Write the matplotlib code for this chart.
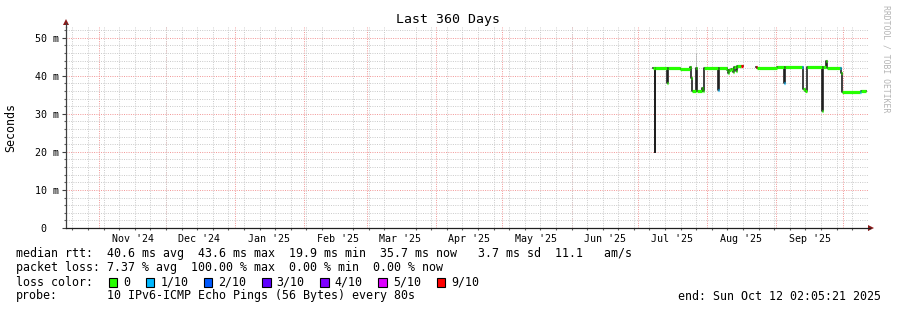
import matplotlib.pyplot as plt
import matplotlib.dates as mdates
from matplotlib.lines import Line2D
from matplotlib.patches import Rectangle, Polygon
from matplotlib.ticker import MultipleLocator, FuncFormatter
import numpy as np
import pandas as pd

W, H = 897, 310
plt.rcParams['font.family'] = 'DejaVu Sans Mono'

start = pd.Timestamp('2024-10-17 02:05:21')
end = pd.Timestamp('2025-10-12 02:05:21')

# median rtt samples: days after start, median in ms, loss level (x/10)
rtt_day = [263.5, 264.4, 264.6, 269.8, 270.0, 275.6, 280.1, 280.7, 281.2, 282.8,
           283.2, 285.5, 285.9, 286.6, 292.6, 292.9, 296.7, 297.1, 297.8, 298.5,
           299.2, 299.8, 300.7, 301.4, 303.0, 303.9, 309.7, 310.1, 319.1, 319.3,
           322.3, 322.7, 330.3, 330.8, 331.5, 332.4, 332.8, 339.3, 340.0, 341.1,
           341.8, 347.4, 347.8, 348.3, 348.5, 356.4, 356.8, 359.1]
rtt_ms = [41.9, 19.9, 42.0, 38.1, 42.0, 41.7, 42.2, 39.5, 36.0, 42.0,
          36.0, 36.7, 36.0, 42.0, 36.2, 42.0, 41.5, 40.8, 41.5, 41.8,
          41.0, 42.3, 41.2, 42.5, 42.5, np.nan, 42.2, 42.0, 42.2, 42.2,
          38.2, 42.2, 42.2, 36.5, 36.0, 37.1, 42.2, 30.8, 42.2, 43.8,
          42.0, 42.0, 40.6, 35.6, 35.6, 35.6, 36.0, 36.0]
rtt_loss = [0, 0, 0, 0, 0, 0, 0, 0, 0, 0,
            0, 0, 0, 0, 1, 0, 0, 0, 0, 0,
            0, 0, 0, 0, 9, 0, 9, 0, 1, 0,
            1, 0, 1, 0, 0, 0, 0, 0, 0, 0,
            0, 1, 0, 1, 0, 1, 0, 0]

# ping spread ("smoke")
smoke_day = [282.8]
smoke_lo = [42.0]
smoke_hi = [46.0]

loss_levels = [0, 1, 2, 3, 4, 5, 9]
loss_labels = ['0', '1/10', '2/10', '3/10', '4/10', '5/10', '9/10']
loss_colors = ['#26ff00', '#00b8ff', '#0059ff', '#5e00ff', '#7e00ff', '#dd00ff', '#ff0000']
color_of = dict(zip(loss_levels, loss_colors))

stats_rtt = 'median rtt:  40.6 ms avg  43.6 ms max  19.9 ms min  35.7 ms now   3.7 ms sd  11.1   am/s'
stats_loss = 'packet loss: 7.37 % avg  100.00 % max  0.00 % min  0.00 % now'
probe_text = '10 IPv6-ICMP Echo Pings (56 Bytes) every 80s'
end_text = 'end: Sun Oct 12 02:05:21 2025'


def fx(px):
    return px / W


def fy(py):
    return 1 - py / H


def to_num(days):
    t0 = mdates.date2num(start.to_pydatetime())
    return t0 + np.asarray(days, dtype=float)


fig = plt.figure(figsize=(W / 100, H / 100), dpi=100)
fig.patch.set_facecolor('white')
ax = fig.add_axes([fx(66), fy(228), fx(868 - 66), (228 - 27) / H])

x = to_num(rtt_day)
y = np.array(rtt_ms)

# dotted grid
gkw = dict(lw=0.72, ls=(0, (1, 1.3)))
ax.set_ylim(0, 52.8)
ax.set_xlim(mdates.date2num(start.to_pydatetime()), mdates.date2num(end.to_pydatetime()))
ax.yaxis.set_major_locator(MultipleLocator(10))
ax.yaxis.set_minor_locator(MultipleLocator(2))
ax.yaxis.set_major_formatter(FuncFormatter(lambda v, p: '0  ' if v == 0 else '%d m' % v))
ax.xaxis.set_major_locator(mdates.MonthLocator(bymonthday=16))
ax.xaxis.set_major_formatter(mdates.DateFormatter("%b '%y"))
ax.xaxis.set_minor_locator(mdates.WeekdayLocator(byweekday=mdates.SU))
ax.grid(False)
ax.yaxis.grid(True, which='minor', color='#cccccc', zorder=0, **gkw)
ax.xaxis.grid(True, which='minor', color='#cccccc', zorder=0, **gkw)
for v in np.arange(10, 52.8, 10):
    ax.axhline(v, color='#f29a9a', zorder=0.5, **gkw)
for m in pd.date_range('2024-11-01', '2025-10-01', freq='MS'):
    ax.axvline(mdates.date2num(m.to_pydatetime()), color='#f29a9a', zorder=0.5, **gkw)

ax.tick_params(axis='y', which='major', length=3, width=0.8, color='#404040',
               labelsize=7.2, pad=2.2)
ax.tick_params(axis='y', which='minor', length=1.5, width=0.8, color='#606060')
ax.tick_params(axis='x', which='major', length=0, labelsize=7.2, pad=4)
ax.tick_params(axis='x', which='minor', length=1.5, width=0.8, color='#606060')
for s in ['top', 'right']:
    ax.spines[s].set_visible(False)
ax.spines['left'].set_color('#404040')
ax.spines['bottom'].set_color('#202020')
ax.spines['left'].set_linewidth(0.9)
ax.spines['bottom'].set_linewidth(0.9)

# smoke
for d, l, h in zip(smoke_day, smoke_lo, smoke_hi):
    xs = to_num([d, d + 0.45])
    ax.fill_between(xs, [l, l], [h, h], color='#b4b4b4', lw=0, zorder=1)

# median line
ax.step(x, y, where='post', color='#202020', lw=1.2, zorder=2)

# loss coloured bars on the median
for i in range(len(x) - 1):
    if np.isnan(y[i]):
        continue
    ax.hlines(y[i], x[i], x[i + 1], color=color_of[rtt_loss[i]], lw=2.3, zorder=3,
              capstyle='butt')

# axis arrows
arrow_c = '#8b1a1a'
fig.add_artist(Line2D([fx(66), fx(66)], [fy(27), fy(23)], color='#404040', lw=0.9))
fig.add_artist(Polygon([[fx(63), fy(25)], [fx(69), fy(25)], [fx(66), fy(19)]],
                       closed=True, color=arrow_c, lw=0))
fig.add_artist(Line2D([fx(868), fx(870)], [fy(228), fy(228)], color='#202020', lw=0.9))
fig.add_artist(Polygon([[fx(868), fy(225)], [fx(868), fy(231)], [fx(874), fy(228)]],
                       closed=True, color=arrow_c, lw=0))

# titles
fig.text(fx(448), fy(19), 'Last 360 Days', ha='center', va='center', fontsize=9.5)
fig.text(fx(11), fy(127.5), 'Seconds', rotation=90, ha='center', va='center', fontsize=8.4)
fig.text(fx(886), fy(5), 'RRDTOOL / TOBI OETIKER', rotation=270, ha='center', va='top',
         fontsize=5.9, color='#b4b4b4')

# legend / stats
fs = 8.4
fig.text(fx(16), fy(254), stats_rtt, ha='left', va='center', fontsize=fs)
fig.text(fx(16), fy(268), stats_loss, ha='left', va='center', fontsize=fs)
fig.text(fx(16), fy(282), 'loss color:', ha='left', va='center', fontsize=fs)
fig.text(fx(16), fy(296), 'probe:', ha='left', va='center', fontsize=fs)
fig.text(fx(107), fy(296), probe_text, ha='left', va='center', fontsize=fs)
fig.text(fx(881), fy(296), end_text, ha='right', va='center', fontsize=fs)

sx = 108.7
for lab, col in zip(loss_labels, loss_colors):
    fig.add_artist(Rectangle((fx(sx), fy(286.5)), 8.5 / W, 8.5 / H, facecolor=col,
                             edgecolor='black', lw=0.8))
    tx = sx + 14.5
    fig.text(fx(tx), fy(282), lab, ha='left', va='center', fontsize=fs)
    sx = tx + len(lab) * 7.04 + 15.5

fig.savefig('out.png', dpi=100, facecolor='white')
